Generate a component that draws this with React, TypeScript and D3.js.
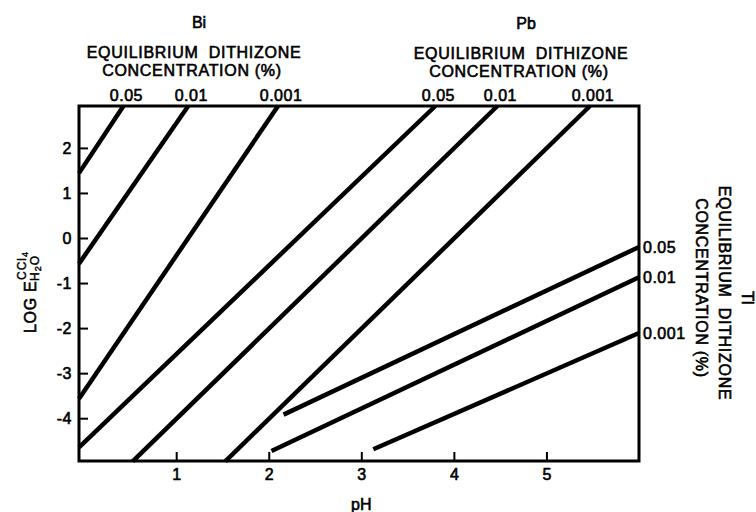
import React, { useEffect, useRef } from 'react';
import * as d3 from 'd3';

// line endpoints: [pH, log E] start -> end
interface Seg {
  conc: string;
  x1: number;
  y1: number;
  x2: number;
  y2: number;
}

const biLines: Seg[] = [
  { conc: '0.05', x1: -0.05, y1: 1.44, x2: 0.43, y2: 2.93 },
  { conc: '0.01', x1: -0.05, y1: -0.57, x2: 1.13, y2: 2.93 },
  { conc: '0.001', x1: -0.05, y1: -3.57, x2: 2.1, y2: 2.93 },
];

const pbLines: Seg[] = [
  { conc: '0.05', x1: -0.05, y1: -4.65, x2: 3.8, y2: 2.93 },
  { conc: '0.01', x1: 0.53, y1: -4.96, x2: 4.47, y2: 2.93 },
  { conc: '0.001', x1: 1.53, y1: -4.96, x2: 5.47, y2: 2.93 },
];

const tlLines: Seg[] = [
  { conc: '0.05', x1: 2.16, y1: -3.92, x2: 6.0, y2: -0.2 },
  { conc: '0.01', x1: 2.03, y1: -4.73, x2: 6.0, y2: -0.87 },
  { conc: '0.001', x1: 3.13, y1: -4.69, x2: 6.0, y2: -2.11 },
];

const xTicks = [1, 2, 3, 4, 5];
const yTicks = [-4, -3, -2, -1, 0, 1, 2];

const FONT = "'Liberation Sans', Arial, sans-serif";

const App: React.FC = () => {
  const svgRef = useRef<SVGSVGElement>(null);

  useEffect(() => {
    if (!svgRef.current) return;
    const svg = d3.select(svgRef.current);
    svg.selectAll('*').remove();

    const left = 79, right = 639, top = 106, bottom = 461;

    const x = d3.scaleLinear().domain([-0.05, 6.0]).range([left, right]);
    const y = d3.scaleLinear().domain([-4.95, 2.93]).range([bottom, top]);

    // text gets a thin stroke to look like the heavy lettering of the original
    const g = svg.append('g')
      .attr('font-family', FONT)
      .attr('font-size', 16)
      .attr('fill', '#000');
    const txt = g.append('g').attr('stroke', '#000').attr('stroke-width', 0.6);

    // frame
    g.append('rect')
      .attr('x', left)
      .attr('y', top)
      .attr('width', right - left)
      .attr('height', bottom - top)
      .attr('fill', 'none')
      .attr('stroke', '#000')
      .attr('stroke-width', 3);

    // Y axis, ticks pointing inward
    const yAxis = g.append('g')
      .attr('transform', `translate(${left},0)`)
      .call(d3.axisLeft(y).tickValues(yTicks).tickSizeInner(-9).tickSizeOuter(0)
        .tickPadding(7).tickFormat(d => String(d)));
    yAxis.select('.domain').remove();
    yAxis.selectAll('line').attr('stroke-width', 2);
    yAxis.selectAll('text').attr('font-size', 16).attr('font-family', FONT)
      .attr('letter-spacing', 0.5).attr('stroke', '#000').attr('stroke-width', 0.6);

    // X axis
    const xAxis = g.append('g')
      .attr('transform', `translate(0,${bottom})`)
      .call(d3.axisBottom(x).tickValues(xTicks).tickSizeInner(-9).tickSizeOuter(0)
        .tickPadding(8).tickFormat(d => String(d)));
    xAxis.select('.domain').remove();
    xAxis.selectAll('line').attr('stroke-width', 2);
    xAxis.selectAll('text').attr('font-size', 16).attr('font-family', FONT)
      .attr('stroke', '#000').attr('stroke-width', 0.6);

    // data lines
    const all = [...biLines, ...pbLines, ...tlLines];
    const line = d3.line<[number, number]>().x(d => x(d[0])).y(d => y(d[1]));
    g.selectAll('.seg')
      .data(all)
      .enter()
      .append('path')
      .attr('d', d => line([[d.x1, d.y1], [d.x2, d.y2]]))
      .attr('fill', 'none')
      .attr('stroke', '#000')
      .attr('stroke-width', 4.5)
      .attr('stroke-linecap', 'butt');

    // concentration labels above the top ends
    txt.selectAll('.topLab')
      .data([...biLines, ...pbLines])
      .enter()
      .append('text')
      .attr('x', d => x(d.x2) + 3)
      .attr('y', 101)
      .attr('text-anchor', 'middle')
      .attr('letter-spacing', 0.5)
      .text(d => d.conc);

    // Tl labels at the right ends
    txt.selectAll('.rightLab')
      .data(tlLines)
      .enter()
      .append('text')
      .attr('x', right + 4)
      .attr('y', d => y(d.y2) + 6)
      .attr('letter-spacing', 0.5)
      .text(d => d.conc);

    // headings
    const heading = (cx: number, metal: string, yOff: number) => {
      txt.append('text').attr('x', cx + 5).attr('y', 28 + yOff).attr('text-anchor', 'middle').text(metal);
      txt.append('text').attr('x', cx).attr('y', 58 + yOff).attr('text-anchor', 'middle')
        .attr('letter-spacing', 0.7).attr('xml:space', 'preserve').text('EQUILIBRIUM  DITHIZONE');
      txt.append('text').attr('x', cx - 2).attr('y', 76 + yOff).attr('text-anchor', 'middle')
        .attr('letter-spacing', 0.7).text('CONCENTRATION (%)');
    };
    heading(194, 'Bi', 0);
    heading(521, 'Pb', 1);

    // Tl heading, rotated clockwise
    txt.append('text').attr('transform', 'translate(742,298) rotate(90)')
      .attr('text-anchor', 'middle').text('Tl');
    txt.append('text').attr('transform', 'translate(719,293) rotate(90)')
      .attr('text-anchor', 'middle').attr('letter-spacing', 0.7)
      .attr('xml:space', 'preserve').text('EQUILIBRIUM  DITHIZONE');
    txt.append('text').attr('transform', 'translate(696,288) rotate(90)')
      .attr('text-anchor', 'middle').attr('letter-spacing', 0.7).text('CONCENTRATION (%)');

    // y axis title: LOG E with CCl4 / H2O
    const yl = txt.append('g').attr('transform', 'translate(36,333) rotate(-90)');
    yl.append('text').attr('x', 0).attr('y', 0).attr('letter-spacing', 0.7).text('LOG E');
    const sup = yl.append('text').attr('x', 53).attr('y', -10).attr('font-size', 12)
      .attr('stroke-width', 0.4).attr('letter-spacing', 1);
    sup.append('tspan').text('CCl');
    sup.append('tspan').attr('font-size', 9).attr('dy', 2).text('4');
    const sub = yl.append('text').attr('x', 52).attr('y', 3).attr('font-size', 12)
      .attr('stroke-width', 0.4).attr('letter-spacing', 1);
    sub.append('tspan').text('H');
    sub.append('tspan').attr('font-size', 9).attr('dy', 2).text('2');
    sub.append('tspan').attr('dy', -2).text('O');

    // x axis title
    txt.append('text').attr('x', x(3)).attr('y', 510).attr('text-anchor', 'middle').text('pH');
  }, []);

  return (
    <svg
      ref={svgRef}
      width={756}
      height={512}
      style={{ position: 'absolute', left: 0, top: 0, background: '#fff' }}
    />
  );
};

export default App;
